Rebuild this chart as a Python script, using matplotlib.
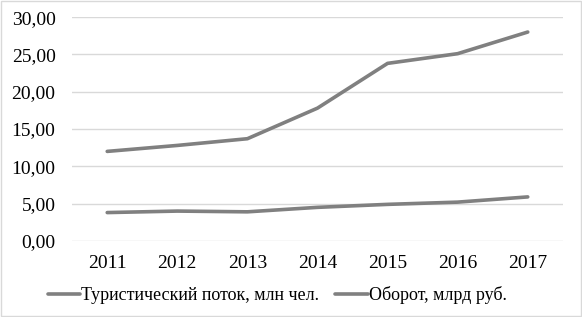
import matplotlib.pyplot as plt
from matplotlib.ticker import FuncFormatter

years = ['2011', '2012', '2013', '2014', '2015', '2016', '2017']
tourist_flow = [12.0, 12.8, 13.7, 17.8, 23.8, 25.1, 28.0]
turnover = [3.8, 4.0, 3.9, 4.5, 4.9, 5.2, 5.9]
labels = ['Туристический поток, млн чел.', 'Оборот, млрд руб.']

plt.rcParams['font.family'] = ['Liberation Serif', 'DejaVu Serif']

fig = plt.figure(figsize=(5.82, 3.17), dpi=100)
ax = fig.add_axes([0.124, 0.24, 0.843, 0.706])

x = range(len(years))
ax.plot(x, tourist_flow, color='#808080', lw=2.6, label=labels[0], solid_capstyle='round')
ax.plot(x, turnover, color='#808080', lw=2.6, label=labels[1], solid_capstyle='round')

ax.set_ylim(0, 30)
ax.set_yticks(range(0, 31, 5))
ax.yaxis.set_major_formatter(FuncFormatter(lambda v, p: '{:.2f}'.format(v).replace('.', ',')))
ax.set_xlim(-0.5, 6.5)
ax.set_xticks(list(x))
ax.set_xticklabels(years)
ax.grid(axis='y', color='#d9d9d9', lw=1)
ax.set_axisbelow(True)
for s in ax.spines.values():
    s.set_visible(False)
ax.tick_params(length=0, labelsize=14, colors='#000000')
ax.tick_params(axis='y', pad=12)
ax.tick_params(axis='x', pad=10)

ax.legend(loc='upper center', bbox_to_anchor=(0.418, -0.13), ncol=2, frameon=False,
          fontsize=13, handlelength=1.8, handletextpad=0.05, columnspacing=0.9)

fig.patches.append(plt.Rectangle((0.002, 0.004), 0.996, 0.992, transform=fig.transFigure,
                                 fill=False, edgecolor='#d9d9d9', lw=1))
fig.savefig('out.png', dpi=100)
